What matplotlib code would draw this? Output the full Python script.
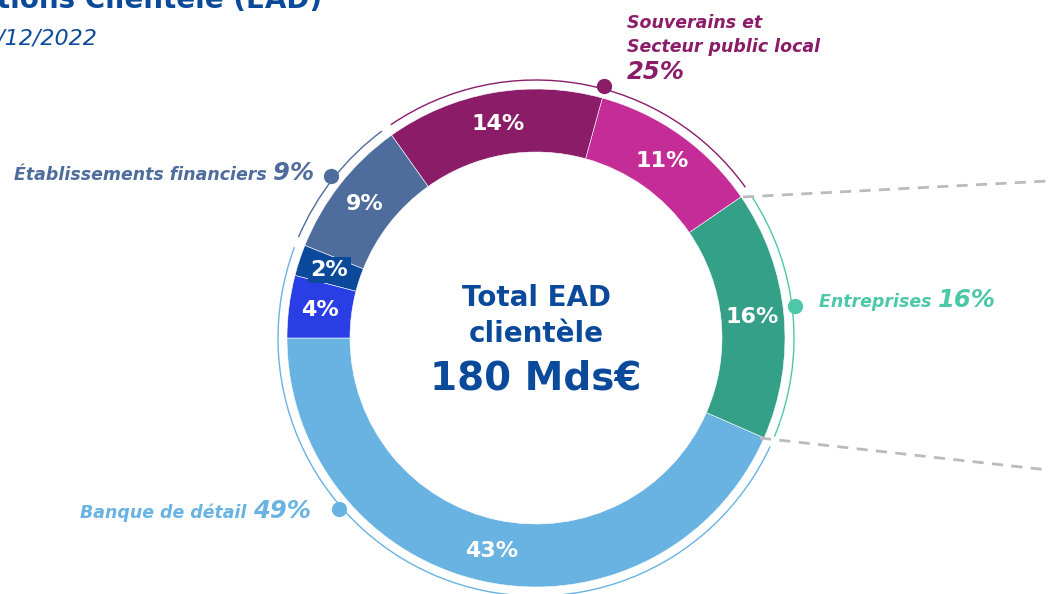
import numpy as np
import matplotlib
matplotlib.use("Agg")
import matplotlib.pyplot as plt
from matplotlib.patches import Arc

plt.rcParams['font.family'] = ['DejaVu Sans']

# segment values (%), drawn from 9 o'clock going down and round
seg_values = [43, 16, 11, 14, 9, 2, 4]
seg_colors = ['#68b3e2', '#33a087', '#c42d97', '#8a1c68', '#4e6d9c', '#0b4a9a', '#2a3ee6']

# outer groups: name, share, segments covered
group_names = ['Banque de détail', 'Entreprises', 'Souverains et\nSecteur public local', 'Établissements financiers']
group_shares = [49, 16, 25, 9]
group_segs = [[0, 5, 6], [1], [2, 3], [4]]
group_colors = ['#68b3e2', '#4cc8a8', '#8a1c68', '#4e6d9c']

total_label = ['Total EAD', 'clientèle', '180 Mds€']
title = 'Expositions Clientèle (EAD)'
subtitle = 'au 31/12/2022'

H = 594
cx, cy = 536, H - 338
r_out, r_in = 249, 186
r_arc = 258
navy = '#0b4a9a'

fig = plt.figure(figsize=(10.48, 5.94), dpi=100)
ax = fig.add_axes([0, 0, 1, 1])

wedges, _ = ax.pie(seg_values, colors=seg_colors, startangle=180, counterclock=True,
                   center=(cx, cy), radius=r_out,
                   wedgeprops=dict(width=r_out - r_in, edgecolor='white', linewidth=0.4))
ax.set_xlim(0, 1048)
ax.set_ylim(0, H)
ax.set_aspect('equal')
ax.axis('off')

# percent labels inside the ring
r_lab = (r_out + r_in) / 2
for i, w in enumerate(wedges):
    a = np.deg2rad((w.theta1 + w.theta2) / 2)
    kw = {}
    if seg_values[i] == 2:
        kw['bbox'] = dict(facecolor=navy, edgecolor='none', pad=2)
    ax.text(cx + r_lab * np.cos(a), cy + r_lab * np.sin(a), f'{seg_values[i]}%',
            color='white', fontsize=16, fontweight='bold', ha='center', va='center', **kw)

# thin outer arcs per group
gap = 1.2
for gi, segs in enumerate(group_segs):
    if gi == 0:
        t1, t2 = wedges[5].theta1, wedges[0].theta2
    else:
        t1 = min(wedges[s].theta1 for s in segs)
        t2 = max(wedges[s].theta2 for s in segs)
    ax.add_patch(Arc((cx, cy), 2 * r_arc, 2 * r_arc, theta1=t1 + gap, theta2=t2 - gap,
                     color=group_colors[gi], lw=1.0))

# dots on arcs
dot_angles = [221, 7, 75, 141.6]
for gi, ang in enumerate(dot_angles):
    a = np.deg2rad(ang)
    ax.plot(cx + 261 * np.cos(a), cy + 261 * np.sin(a), 'o', ms=11,
            color=group_colors[gi], mec='none')

# group labels: name in small bold italic, share bigger right after it
lab_style = dict(fontstyle='italic', fontweight='bold')
fig.canvas.draw()
renderer = fig.canvas.get_renderer()


def inline_label(x, y, name, share, color, align='left'):
    t1 = ax.text(x, y, name + ' ', color=color, fontsize=12.5, ha='left', va='baseline', **lab_style)
    t2 = ax.text(x, y, f'{share}%', color=color, fontsize=17.5, ha='left', va='baseline', **lab_style)
    w1 = t1.get_window_extent(renderer).width
    w2 = t2.get_window_extent(renderer).width
    if align == 'right':
        t1.set_x(x - w1 - w2)
        t2.set_x(x - w2)
    else:
        t2.set_x(x + w1)


inline_label(311, H - 518, group_names[0], group_shares[0], group_colors[0], 'right')
inline_label(819, H - 307, group_names[1], group_shares[1], group_colors[1])
inline_label(314, H - 180, group_names[3], group_shares[3], group_colors[3], 'right')

ax.text(627, H - 52, group_names[2], color=group_colors[2], fontsize=12.5,
        ha='left', va='baseline', linespacing=1.4, **lab_style)
ax.text(627, H - 79, f'{group_shares[2]}%', color=group_colors[2], fontsize=17.5,
        ha='left', va='baseline', **lab_style)

# dashed lines towards the (cropped) detail on the right
ax.plot([743, 1048], [H - 197, H - 181], color='#bbbbbb', lw=2, ls=(0, (4, 3)))
ax.plot([760, 1048], [H - 438, H - 470], color='#bbbbbb', lw=2, ls=(0, (4, 3)))

# centre text
ax.text(cx, H - 298, total_label[0], color=navy, fontsize=20, fontweight='bold', ha='center', va='center')
ax.text(cx, H - 334, total_label[1], color=navy, fontsize=20, fontweight='bold', ha='center', va='center')
ax.text(cx, H - 378, total_label[2], color=navy, fontsize=28, fontweight='bold', ha='center', va='center')

# title (cropped at the top left)
ax.text(322, H - 8, title, color=navy, fontsize=20, fontweight='bold', ha='right', va='baseline')
ax.text(97, H - 45, subtitle, color=navy, fontsize=16, fontstyle='italic', ha='right', va='baseline')

fig.savefig('out.png', dpi=100)
